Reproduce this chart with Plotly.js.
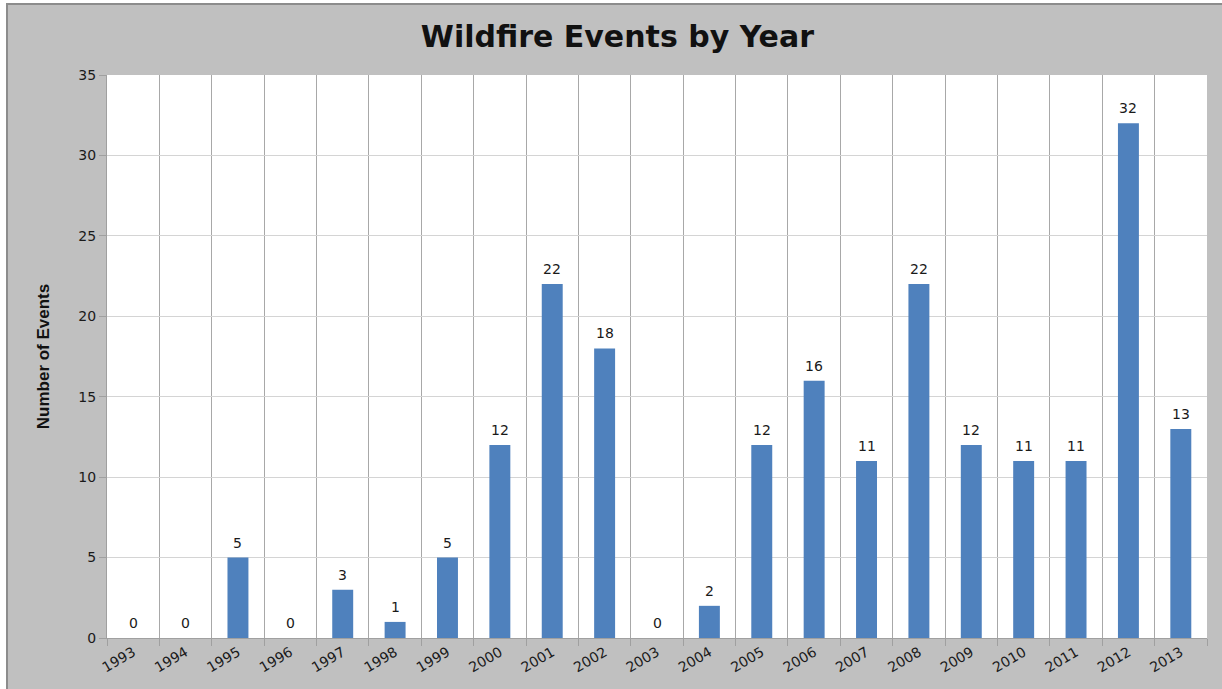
<!DOCTYPE html>
<html><head><meta charset="utf-8">
<script src="https://cdn.plot.ly/plotly-3.0.1.min.js"></script>
<style>
html,body{margin:0;padding:0;background:#fff;width:1222px;height:689px;overflow:hidden;}
#wrap{position:absolute;left:6px;top:3px;border-left:2px solid #8c8c8c;border-top:2px solid #8c8c8c;}
#chart{width:1214px;height:684px;}
</style></head>
<body><div id="wrap"><div id="chart"></div></div>
<script>
const years = ['1993','1994','1995','1996','1997','1998','1999','2000','2001','2002','2003','2004','2005','2006','2007','2008','2009','2010','2011','2012','2013'];
const events = [0,0,5,0,3,1,5,12,22,18,0,2,12,16,11,22,12,11,11,32,13];
const yTicks = [0,5,10,15,20,25,30,35];

const bars = {
  type:'bar', x:years, y:events,
  marker:{color:'#4F81BD', line:{color:'#4F81BD', width:0}},
  hoverinfo:'x+y', showlegend:false
};
const annotations = years.map((yr,i)=>({
  x:i, y:events[i], xref:'x', yref:'y', text:String(events[i]),
  showarrow:false, yanchor:'bottom', xanchor:'center', yshift:5,
  font:{family:'DejaVu Sans, Verdana, sans-serif', size:14, color:'#1a1a1a'}
}));
const layout = {
  width:1214, height:684,
  paper_bgcolor:'#C0C0C0', plot_bgcolor:'#FFFFFF',
  margin:{l:99, r:15, t:70, b:51},
  bargap:0.6,
  annotations:annotations,
  title:{text:'<b>Wildfire Events by Year</b>', x:0.502, xanchor:'center', y:0.954, yanchor:'middle',
    font:{family:'DejaVu Sans, Verdana, sans-serif', size:30, color:'#111'}},
  xaxis:{type:'category', range:[-0.5,20.5], tickson:'boundaries', showgrid:true, gridcolor:'#a8a8a8', gridwidth:1,
    ticks:'outside', ticklen:7, tickcolor:'#a0a0a0', tickangle:-30,
    showline:true, linecolor:'#a0a0a0', linewidth:1,
    tickfont:{family:'DejaVu Sans, Verdana, sans-serif', size:14, color:'#1a1a1a'}},
  yaxis:{range:[0,35], tickvals:yTicks, ticktext:yTicks.map(String), showgrid:true, gridcolor:'#d4d4d4', gridwidth:1,
    ticks:'outside', ticklen:7, tickcolor:'#a0a0a0', zeroline:false,
    showline:true, linecolor:'#a0a0a0', linewidth:1,
    tickfont:{family:'DejaVu Sans, Verdana, sans-serif', size:14, color:'#1a1a1a'},
    title:{text:'<b>Number of Events</b>', standoff:24,
      font:{family:'Liberation Sans Narrow, Liberation Sans, Arial Narrow, sans-serif', size:17, color:'#111'}}}
};
Plotly.newPlot('chart',[bars],layout,{displayModeBar:false, staticPlot:true});
</script></body></html>
